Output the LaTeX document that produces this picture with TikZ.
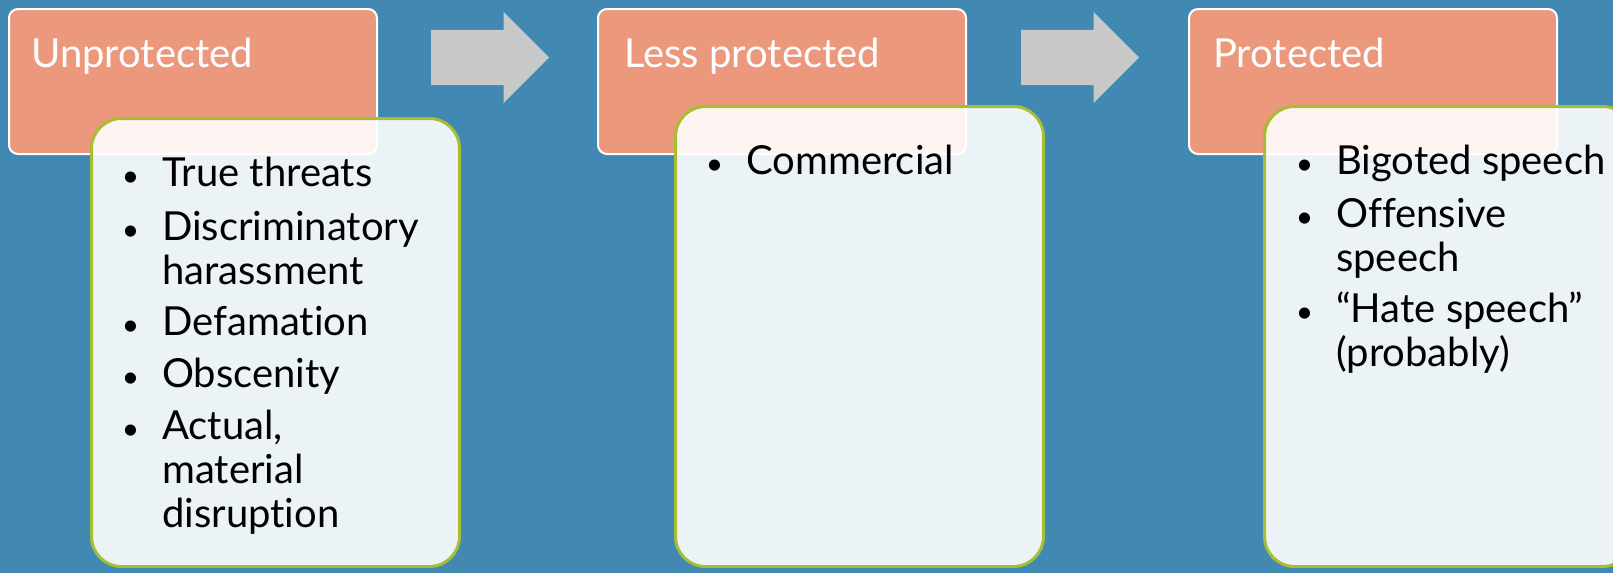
\documentclass[tikz,border=0pt]{standalone}
\usepackage{fontspec}
\setmainfont{Lato}[Ligatures={TeX,NoCommon}]
\usetikzlibrary{positioning, shapes.arrows}
\definecolor{slideblue}{HTML}{4189B3}
\definecolor{headfill}{HTML}{EC987C}
\definecolor{bodyline}{HTML}{A6BE32}
\definecolor{arrowgray}{HTML}{C8C8C8}
\newcommand\bitem[1]{\llap{{\fontsize{30}{30}\selectfont\textbullet}\hspace{23pt}}\parbox[t]{300pt}{\raggedright #1}}

\begin{document}
\begin{tikzpicture}[
    x=1pt, y=-1pt,
    every node/.style={font=\fontsize{40}{44}\selectfont, inner sep=0pt},
    head/.style={rectangle, rounded corners=9pt, draw=white, line width=2pt,
                 fill=headfill, minimum width=368pt, minimum height=145pt,
                 anchor=north west},
    body/.style={rectangle, rounded corners=30pt, draw=bodyline, line width=3pt,
                 fill=white, fill opacity=0.9, draw opacity=1,
                 minimum width=368pt, anchor=north west},
    headtext/.style={text=white, anchor=base west},
    itemtext/.style={text=black, anchor=base west},
    stagearrow/.style={single arrow, fill=arrowgray, anchor=west,
                       inner xsep=0pt, inner ysep=27.5pt,
                       minimum height=118pt, minimum width=91pt,
                       single arrow head extend=18pt, single arrow tip angle=90},
]
\useasboundingbox (0,0) rectangle (1613,573);
\clip (0,0) rectangle (1613,573);
\fill[slideblue] (0,0) rectangle (1613,573);

% header boxes
\node[head] (h1) at (8,8) {};
\node[head] (h2) at (597,8) {};
\node[head] (h3) at (1188,8) {};

\node[headtext] (h1t) at (31,67) {Unprotected};
\node[headtext] (h2t) at (624,67) {Less protected};
\node[headtext] (h3t) at (1213,67) {Protected};

% arrows between stages
\node[stagearrow] (a1) at (431,57.5) {};
\node[stagearrow] (a2) at (1021,57.5) {};

% content boxes
\node[body, minimum height=448pt] (b1) at (90,117) {};
\node[body, minimum height=460pt] (b2) at (674,105) {};
\node[body, minimum height=460pt] (b3) at (1263,105) {};

\node[itemtext] (u1) at (162,186) {\bitem{True threats}};
\node[itemtext] (u2) at (162,240) {\bitem{Discriminatory\\harassment}};
\node[itemtext] (u3) at (162,335) {\bitem{Defamation}};
\node[itemtext] (u4) at (162,387) {\bitem{Obscenity}};
\node[itemtext] (u5) at (162,439) {\bitem{Actual,\\material\\disruption}};

\node[itemtext] (l1) at (746,174) {\bitem{Commercial}};

\node[itemtext] (p1) at (1336,174) {\bitem{Bigoted speech}};
\node[itemtext] (p2) at (1336,227) {\bitem{Offensive\\speech}};
\node[itemtext] (p3) at (1336,322) {\bitem{“Hate speech”\\(probably)}};

\end{tikzpicture}
\end{document}
